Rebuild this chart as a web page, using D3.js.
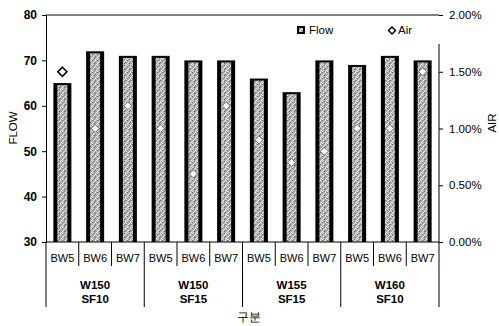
<!DOCTYPE html>
<html><head><meta charset="utf-8">
<script src="https://cdn.jsdelivr.net/npm/d3@7"></script>
<style>
body{margin:0;background:#fff;}
text{font-family:"Liberation Sans",Arial,sans-serif;fill:#000;}
</style></head>
<body><svg id="c" width="499" height="326"></svg>
<script>
const subLabels = ["BW5","BW6","BW7","BW5","BW6","BW7","BW5","BW6","BW7","BW5","BW6","BW7"];
const groupLabels = [["W150","SF10"],["W150","SF15"],["W155","SF15"],["W160","SF10"]];
const flowValues = [65,72,71,71,70,70,66,63,70,69,71,70];
const airValues = [0.015,0.010,0.012,0.010,0.006,0.012,0.009,0.007,0.008,0.010,0.010,0.015];
const flowTicks = [30,40,50,60,70,80];
const airTicks = [0,0.005,0.01,0.015,0.02];

const svg = d3.select("#c");
const L = 46, R = 439, T = 15, B = 242;
const idx = d3.range(flowValues.length);
const x = d3.scaleBand().domain(idx).range([L, R]).paddingInner(0.45).paddingOuter(0.225);
const xs = d3.scaleBand().domain(idx).range([L, R]);
const yL = d3.scaleLinear().domain([30, 80]).range([B, T]);
const yR = d3.scaleLinear().domain([0, 0.02]).range([B, T]);

// grainy texture pattern (fixed pixel layout)
const defs = svg.append("defs");
const pat = defs.append("pattern").attr("id","tex").attr("patternUnits","userSpaceOnUse")
  .attr("width",5).attr("height",6);
pat.append("rect").attr("width",5).attr("height",6).attr("fill","#acacac");
[[0,0,"#f4f4f4"],[2,0,"#707070"],[4,1,"#e0e0e0"],[1,1,"#d0d0d0"],[3,2,"#f8f8f8"],[0,2,"#7a7a7a"],
 [2,3,"#e4e4e4"],[4,3,"#666666"],[1,4,"#f0f0f0"],[3,4,"#c8c8c8"],[0,5,"#d8d8d8"],[2,5,"#f4f4f4"],[4,5,"#808080"]]
  .forEach(([px,py,c])=>pat.append("rect").attr("x",px).attr("y",py).attr("width",1).attr("height",1).attr("fill",c));

// bars
const bars = svg.append("g");
bars.selectAll("rect.o").data(idx).join("rect").attr("class","o")
  .attr("x", i=>x(i)).attr("width", x.bandwidth())
  .attr("y", i=>yL(flowValues[i])).attr("height", i=>B - yL(flowValues[i]))
  .attr("fill","#000");
bars.selectAll("rect.i").data(idx).join("rect").attr("class","i")
  .attr("x", i=>x(i)+4).attr("width", x.bandwidth()-8)
  .attr("y", i=>yL(flowValues[i])+2).attr("height", i=>B - yL(flowValues[i])-2)
  .attr("fill","url(#tex)");

// frame lines
svg.append("line").attr("x1",L).attr("x2",R).attr("y1",T).attr("y2",T).attr("stroke","#000");
svg.append("line").attr("x1",R).attr("x2",R).attr("y1",44).attr("y2",B).attr("stroke","#000");

// left axis
const gl = svg.append("g").attr("transform",`translate(${L},0)`)
  .call(d3.axisLeft(yL).tickValues(flowTicks).tickSize(4).tickPadding(5).tickSizeOuter(0));
gl.selectAll("text").style("font-size","12px").style("font-weight","bold");
// right axis
const gr = svg.append("g").attr("transform",`translate(${R},0)`)
  .call(d3.axisRight(yR).tickValues(airTicks).tickFormat(d3.format(".2%")).tickSize(4).tickPadding(6).tickSizeOuter(0));
gr.select(".domain").remove();
gr.selectAll("text").style("font-size","11.5px");

// x axis line
svg.append("line").attr("x1",L).attr("x2",R).attr("y1",B).attr("y2",B).attr("stroke","#000");

// category separators
const seps = d3.range(flowValues.length+1);
svg.append("g").selectAll("line").data(seps).join("line")
  .attr("x1", i=> i<flowValues.length ? xs(i) : R).attr("x2", i=> i<flowValues.length ? xs(i) : R)
  .attr("y1", B).attr("y2", i=> i%3===0 ? 307 : 266)
  .attr("stroke","#000").attr("stroke-width",1);

svg.append("g").selectAll("text").data(idx).join("text")
  .attr("x", i=>xs(i)+xs.bandwidth()/2).attr("y", 262)
  .attr("text-anchor","middle").style("font-size","11px").text(i=>subLabels[i]);

const gw = xs.step()*3;
const gg = svg.append("g").selectAll("text").data(groupLabels).join("text")
  .attr("text-anchor","middle").style("font-size","11.5px").style("font-weight","bold");
gg.append("tspan").attr("x",(d,j)=>L+gw*j+gw/2).attr("y",289).text(d=>d[0]);
gg.append("tspan").attr("x",(d,j)=>L+gw*j+gw/2).attr("y",303).text(d=>d[1]);

// air diamonds
const dia = r => `M0,${-r}L${r},0L0,${r}L${-r},0Z`;
const onBar = i => yR(airValues[i]) > yL(flowValues[i]);
svg.append("g").selectAll("path").data(idx).join("path")
  .attr("transform", i=>`translate(${xs(i)+xs.bandwidth()/2},${yR(airValues[i])})`)
  .attr("d", i=> onBar(i) ? dia(4) : dia(4.5)).attr("fill","#fff")
  .attr("stroke", i=> onBar(i) ? "#505050" : "#000")
  .attr("stroke-width", i=> onBar(i) ? 0.8 : 1.6);

// legend
svg.append("rect").attr("x",297).attr("y",26).attr("width",8).attr("height",8).attr("fill","#000");
svg.append("rect").attr("x",299).attr("y",28).attr("width",4).attr("height",4).attr("fill","url(#tex)");
svg.append("text").attr("x",309).attr("y",34).style("font-size","11.5px").text("Flow");
svg.append("path").attr("transform","translate(392,30.5)").attr("d",dia(3.5))
  .attr("fill","#fff").attr("stroke","#000").attr("stroke-width",1.5);
svg.append("text").attr("x",398).attr("y",34).style("font-size","11.5px").text("Air");

// axis titles
svg.append("text").attr("transform","translate(17,128) rotate(-90)").attr("text-anchor","middle")
  .style("font-size","11.5px").text("FLOW");
svg.append("text").attr("transform","translate(496,123) rotate(-90)").attr("text-anchor","middle")
  .style("font-size","11.5px").text("AIR");
svg.append("text").attr("x",249).attr("y",321).attr("text-anchor","middle")
  .style("font-size","12px").text("구분");
</script></body></html>
